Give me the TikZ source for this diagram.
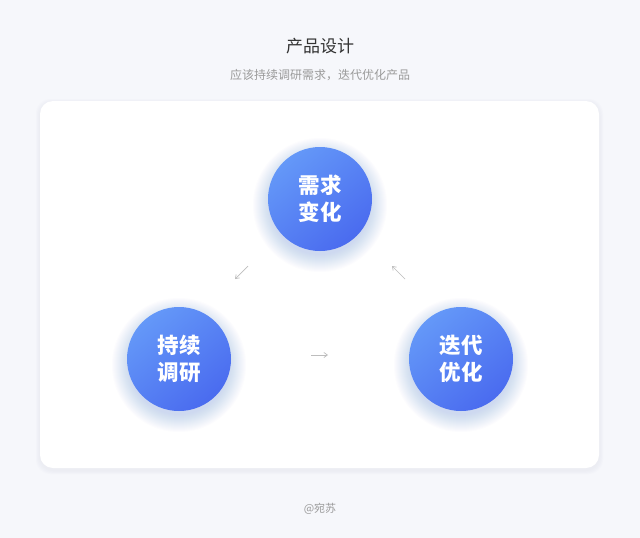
\documentclass[tikz,border=0pt]{standalone}
\usepackage{fontspec}
\newfontfamily\cjk{Noto Sans CJK SC}
\usetikzlibrary{arrows.meta}
\definecolor{bgc}{HTML}{F6F7FB}
\definecolor{titlec}{HTML}{333333}
\definecolor{subc}{HTML}{9A9A9A}
\definecolor{bluelight}{HTML}{6498F8}
\definecolor{bluedark}{HTML}{4A6BEF}
\definecolor{arrowc}{HTML}{BDBDBD}
\definecolor{shadowc}{HTML}{5A7CF0}
\definecolor{cardshadow}{HTML}{E3E5EE}
\tikzset{
  card/.style={fill=white, rounded corners=13pt},
  cardglow/.style={fill=cardshadow, opacity=0.15, rounded corners=15pt},
  glow/.style={fill=shadowc, opacity=0.016},
  bubble/.style={circle, minimum size=104pt, inner sep=0pt,
    top color=bluelight, bottom color=bluedark, shading angle=40,
    text=white, align=center, font=\cjk\bfseries\fontsize{21.5}{27}\selectfont},
  smallarrow/.style={draw=arrowc, line width=0.7pt, -{Straight Barb[length=3.5pt,width=5pt]}},
}
\begin{document}
\begin{tikzpicture}[x=1pt,y=-1pt]
\fill[bgc] (0,0) rectangle (640,538);
\useasboundingbox (0,0) rectangle (640,538);
\foreach \d in {1,2,3,4} {
  \path[cardglow] (40-\d,101-\d+2) rectangle (599+\d,468+\d+2);
}
\path[card] (40,101) rectangle (599,468);
\node[font=\cjk\fontsize{17}{20}\selectfont, text=titlec] (title) at (320,46) {产品设计};
\node[font=\cjk\fontsize{12}{14}\selectfont, text=subc] (subtitle) at (320,75) {应该持续调研需求，迭代优化产品};
\foreach \cx/\cy in {320/199, 179/359, 461/359} {
  \foreach \r in {50,51,...,67} {
    \fill[glow] (\cx,\cy+6) circle[radius=\r];
  }
}
\node[bubble] (top) at (320,199) {需求\\变化};
\node[bubble] (left) at (179,359) {持续\\调研};
\node[bubble] (right) at (461,359) {迭代\\优化};
\coordinate (a1s) at (248,266);
\coordinate (a1e) at (235,279);
\coordinate (a2s) at (405,279);
\coordinate (a2e) at (392,266);
\coordinate (a3s) at (311,355);
\coordinate (a3e) at (328,355);
\draw[smallarrow] (a1s) -- (a1e);
\draw[smallarrow] (a2s) -- (a2e);
\draw[smallarrow] (a3s) -- (a3e);
\node[font=\cjk\fontsize{11}{13}\selectfont, text=subc] (footer) at (320,509) {@宛苏};
\end{tikzpicture}
\end{document}
